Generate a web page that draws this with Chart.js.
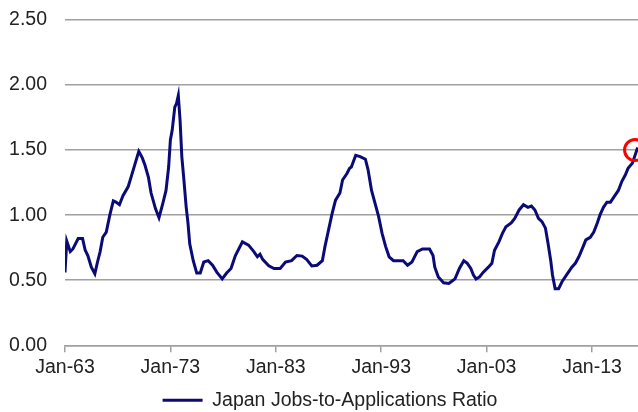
<!DOCTYPE html>
<html><head><meta charset="utf-8">
<script src="https://cdn.jsdelivr.net/npm/chart.js@4/dist/chart.umd.min.js"></script>
<style>
html,body{margin:0;padding:0;overflow:hidden;background:#fff;width:638px;height:412px}
#wrap{position:relative;width:660px;height:420px}
</style></head>
<body><div id="wrap"><canvas id="c" width="660" height="420"></canvas></div>
<script>
const seriesName = 'Japan Jobs-to-Applications Ratio';
const months = [
'1963-01','1963-03','1963-07','1963-10','1964-04','1964-09','1964-12','1965-03','1965-07','1965-11',
'1966-02','1966-05','1966-08','1966-12','1967-04','1967-08','1967-11','1968-03','1968-07','1969-01',
'1969-05','1969-09','1970-01','1970-05','1970-08','1970-12','1971-03','1971-08','1971-12','1972-04',
'1972-08','1972-11','1973-01','1973-03','1973-06','1973-08','1973-10','1973-12','1974-02','1974-04',
'1974-07','1974-09','1974-11','1975-03','1975-07','1975-11','1976-03','1976-08','1977-01','1977-06',
'1977-12','1978-05','1978-10','1979-03','1979-11','1980-06','1980-12','1981-04','1981-07','1981-10',
'1982-05','1982-11','1983-06','1983-12','1984-07','1985-01','1985-07','1985-12','1986-06','1986-12',
'1987-06','1987-09','1988-01','1988-05','1988-09','1989-02','1989-05','1989-10','1990-01','1990-03',
'1990-08','1991-01','1991-07','1991-10','1992-02','1992-06','1992-10','1993-02','1993-06','1993-10',
'1994-03','1994-09','1995-02','1995-07','1995-12','1996-06','1996-12','1997-08','1997-12','1998-02',
'1998-06','1998-12','1999-06','1999-09','2000-01','2000-06','2000-11','2001-03','2001-07','2001-10',
'2002-01','2002-05','2002-09','2003-03','2003-07','2003-10','2004-03','2004-07','2004-11','2005-05',
'2005-09','2006-02','2006-07','2006-12','2007-04','2007-08','2007-12','2008-04','2008-08','2008-11',
'2009-02','2009-04','2009-07','2009-11','2010-03','2010-09','2011-02','2011-06','2011-10','2012-03',
'2012-06','2012-11','2013-03','2013-07','2013-10','2014-02','2014-06','2014-10','2015-02','2015-07',
'2015-11','2016-03','2016-06','2016-11','2017-02','2017-05'
];
const ratios = [
0.56,0.80,0.72,0.74,0.82,0.82,0.73,0.69,0.60,0.55,
0.64,0.72,0.83,0.87,1.00,1.11,1.10,1.08,1.15,1.22,
1.31,1.40,1.49,1.44,1.385,1.29,1.17,1.05,0.98,1.08,
1.19,1.37,1.58,1.65,1.83,1.86,1.92,1.73,1.45,1.30,
1.06,0.94,0.78,0.65,0.555,0.555,0.64,0.65,0.615,0.56,
0.51,0.555,0.59,0.69,0.795,0.77,0.72,0.68,0.70,0.66,
0.61,0.59,0.59,0.64,0.65,0.69,0.685,0.66,0.61,0.615,
0.65,0.76,0.885,1.01,1.115,1.17,1.27,1.32,1.36,1.37,
1.46,1.45,1.43,1.35,1.19,1.09,0.99,0.86,0.76,0.68,
0.65,0.65,0.65,0.615,0.64,0.72,0.74,0.74,0.69,0.60,
0.525,0.48,0.475,0.49,0.51,0.59,0.65,0.63,0.59,0.54,
0.51,0.525,0.56,0.60,0.63,0.73,0.795,0.86,0.91,0.94,
0.975,1.04,1.08,1.06,1.07,1.04,0.975,0.95,0.90,0.78,
0.65,0.54,0.435,0.435,0.49,0.55,0.60,0.63,0.68,0.76,
0.81,0.83,0.87,0.94,1.00,1.06,1.10,1.10,1.14,1.19,
1.26,1.31,1.36,1.40,1.46,1.52
];
const tickYears = [1963,1973,1983,1993,2003,2013];
const yTicks = [0,0.5,1,1.5,2,2.5];
const markMonth = '2017-02';
const markValue = 1.50;

function toYear(m){const p=m.split('-');return +p[0]+(+p[1]-1)/12;}

Chart.defaults.font.family = "'Liberation Sans', Arial, sans-serif";
Chart.defaults.font.size = 19.5;
Chart.defaults.color = '#222';

new Chart(document.getElementById('c'), {
  type: 'line',
  data: {
    datasets: [{
      label: seriesName,
      data: months.map((m,i)=>({x: toYear(m), y: ratios[i]})),
      borderColor: '#0b0b78',
      backgroundColor: '#0b0b78',
      borderWidth: 3,
      pointRadius: 0,
      tension: 0,
      order: 2
    },{
      label: 'mark',
      data: [{x: toYear(markMonth), y: markValue}],
      showLine: false,
      pointRadius: 10.5,
      pointBorderWidth: 3,
      pointBorderColor: '#ff0000',
      pointBackgroundColor: 'rgba(0,0,0,0)',
      clip: false,
      order: 1
    }]
  },
  options: {
    responsive: false,
    animation: false,
    devicePixelRatio: 1,
    layout: { autoPadding: false, padding: { top: 20, left: 0, right: 0, bottom: 0 } },
    plugins: {
      tooltip: { enabled: false },
      legend: {
        position: 'bottom',
        labels: {
          usePointStyle: true,
          pointStyle: 'line',
          pointStyleWidth: 40,
          padding: 10,
          font: { size: 19.5 },
          color: '#222',
          filter: (item) => item.datasetIndex === 0
        }
      }
    },
    scales: {
      x: {
        type: 'linear',
        min: 1963,
        max: 2019.45,
        afterBuildTicks: (s) => { s.ticks = tickYears.map(v => ({ value: v })); },
        afterFit: (s) => { s.height = 35.25; s.paddingLeft = 0; s.paddingRight = 0; },
        ticks: {
          autoSkip: false,
          maxRotation: 0,
          padding: 4,
          callback: (v) => 'Jan-' + String(v).slice(2)
        },
        grid: { drawOnChartArea: false, drawTicks: true, tickLength: 7, color: '#a0a0a0', lineWidth: 1.5 },
        border: { display: true, color: '#a0a0a0', width: 1.5 }
      },
      y: {
        min: 0,
        max: 2.5,
        afterBuildTicks: (s) => { s.ticks = yTicks.map(v => ({ value: v })); },
        afterFit: (s) => { s.width = 65; s.paddingTop = 0; s.paddingBottom = 0; },
        ticks: { padding: 18, callback: (v) => Number(v).toFixed(2) },
        grid: { drawTicks: false, color: '#a0a0a0', lineWidth: 1.5 },
        border: { display: false }
      }
    }
  }
});
</script>
</body></html>
